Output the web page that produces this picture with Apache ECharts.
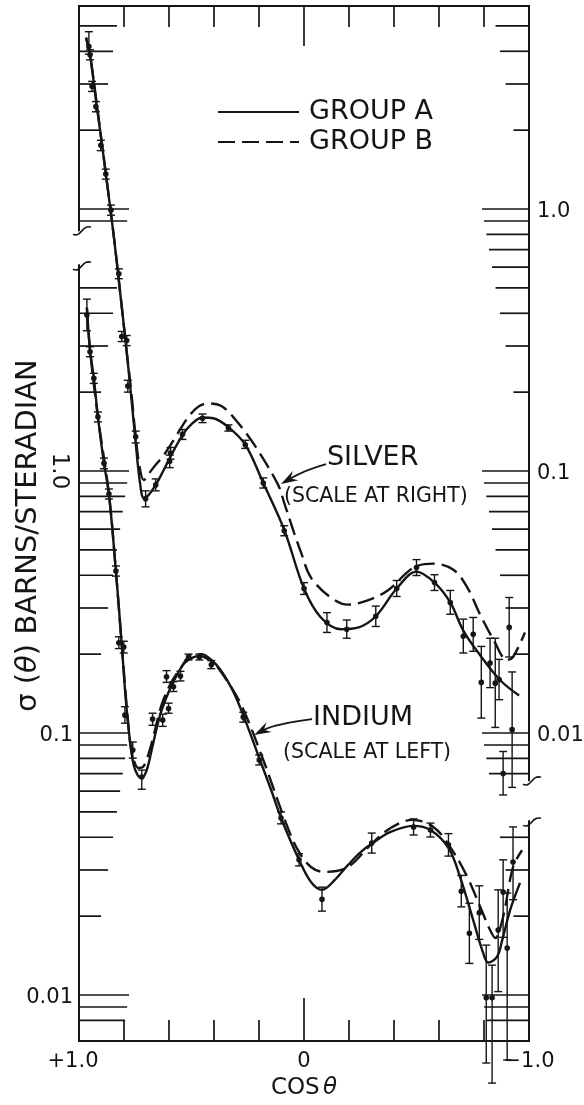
<!DOCTYPE html>
<html><head><meta charset="utf-8">
<script src="https://cdn.jsdelivr.net/npm/echarts@6/dist/echarts.min.js"></script>
<style>html,body{margin:0;padding:0;background:#fff}#c{width:584px;height:1105px}</style>
</head><body><div id="c"></div>
<script>
// ---------------- data ----------------
const xTickValues = [0.8, 0.6, 0.4, 0.2, 0, -0.2, -0.4, -0.6, -0.8];
const xLabelValues = [1, 0, -1];
const xLabelTexts = ['+1.0', '0', '\u22121.0'];

const leftTickValues = [50, 40, 30, 20, 10, 9, 5, 4, 3, 2, 1, 0.9, 0.8, 0.7, 0.6, 0.5, 0.4, 0.3, 0.2,
  0.1, 0.09, 0.08, 0.07, 0.06, 0.05, 0.04, 0.03, 0.02, 0.01, 0.009, 0.008];
const rightTickValues = [5, 4, 3, 2, 1, 0.9, 0.8, 0.7, 0.6, 0.5, 0.4, 0.3, 0.2,
  0.1, 0.09, 0.08, 0.07, 0.06, 0.05, 0.04, 0.03, 0.02, 0.01, 0.009, 0.008, 0.007,
  0.004, 0.003, 0.002, 0.001, 0.0009, 0.0008];
const leftLabelValues = [0.01, 0.1, 1.0];
const leftLabelTexts = ['0.01', '0.1', '1.0'];
const rightLabelValues = [1.0, 0.1, 0.01];
const rightLabelTexts = ['1.0', '0.1', '0.01'];
const leftBreak = [6.1, 8.3];
const rightBreak = [0.0046, 0.0066];

// silver (scale at right): [cos, value, low, high]
const silverPoints = [
  [0.956,4.17,3.90,4.75],[0.951,3.88,3.71,4.05],[0.942,2.94,2.81,3.07],[0.925,2.46,2.35,2.57],
  [0.903,1.75,1.67,1.83],[0.881,1.36,1.30,1.42],[0.858,0.99,0.947,1.035],[0.823,0.566,0.542,0.591],
  [0.810,0.326,0.312,0.341],[0.788,0.315,0.301,0.329],[0.783,0.211,0.200,0.222],[0.748,0.135,0.128,0.142],
  [0.704,0.0783,0.0730,0.0840],[0.659,0.0885,0.0840,0.0933],[0.597,0.109,0.103,0.115],[0.593,0.117,0.111,0.123],
  [0.540,0.138,0.132,0.144],[0.451,0.159,0.153,0.165],[0.336,0.146,0.142,0.150],[0.261,0.126,0.122,0.131],
  [0.181,0.090,0.0861,0.0941],[0.088,0.0591,0.0566,0.0618],[0.000,0.0356,0.0338,0.0375],[-0.102,0.0264,0.0242,0.0288],
  [-0.190,0.0249,0.0230,0.0270],[-0.319,0.0279,0.0255,0.0305],[-0.412,0.0356,0.0332,0.0382],[-0.500,0.0428,0.0399,0.0459],
  [-0.580,0.0375,0.0350,0.0402],[-0.650,0.0315,0.0284,0.0350],[-0.708,0.0234,0.0202,0.0272],[-0.752,0.0238,0.0205,0.0276],
  [-0.788,0.0156,0.0114,0.0214],[-0.827,0.0185,0.0149,0.0230],[-0.850,0.0155,0.0105,0.0230],[-0.867,0.0160,0.0134,0.0191],
  [-0.912,0.0253,0.0195,0.0329],[-0.925,0.0103,0.0062,0.0171],[-0.885,0.0070,0.0058,0.0085]
];
const silverGroupA = [
  [0.969,4.51],[0.951,3.88],[0.925,2.62],[0.898,1.77],[0.872,1.19],[0.845,0.783],[0.819,0.496],[0.792,0.307],
  [0.765,0.181],[0.748,0.128],[0.730,0.0916],[0.712,0.0789],[0.690,0.0811],[0.659,0.0885],[0.628,0.0991],
  [0.597,0.112],[0.540,0.137],[0.500,0.151],[0.451,0.160],[0.403,0.159],[0.336,0.147],[0.261,0.126],
  [0.181,0.0900],[0.088,0.0597],[0.0,0.0356],[-0.075,0.0276],[-0.164,0.0249],[-0.243,0.0253],[-0.319,0.0279],
  [-0.412,0.0356],[-0.500,0.0413],[-0.580,0.0375],[-0.650,0.0315],[-0.708,0.0246],[-0.783,0.0198],
  [-0.872,0.0159],[-0.956,0.0139]
];
const silverGroupB = [
  [0.969,4.51],[0.951,3.88],[0.898,1.77],[0.845,0.783],[0.792,0.307],[0.765,0.190],[0.748,0.134],[0.730,0.103],
  [0.712,0.0924],[0.677,0.101],[0.611,0.119],[0.566,0.137],[0.509,0.163],[0.465,0.177],[0.420,0.181],
  [0.367,0.177],[0.310,0.159],[0.221,0.126],[0.115,0.0885],[0.088,0.0756],[0.044,0.0581],[0.013,0.0488],
  [-0.031,0.0392],[-0.119,0.0329],[-0.195,0.0309],[-0.283,0.0321],[-0.372,0.0350],[-0.487,0.0428],
  [-0.575,0.0443],[-0.664,0.0420],[-0.726,0.0359],[-0.783,0.0283],[-0.841,0.0228],[-0.903,0.0190],
  [-0.929,0.0195],[-0.982,0.0242]
];

// indium (scale at left): [cos, value, low, high]
const indiumPoints = [
  [0.965,3.94,3.43,4.53],[0.951,2.85,2.73,2.98],[0.934,2.26,2.16,2.36],[0.916,1.61,1.54,1.68],
  [0.889,1.07,1.02,1.12],[0.867,0.817,0.782,0.854],[0.836,0.415,0.397,0.434],[0.823,0.221,0.210,0.233],
  [0.801,0.213,0.202,0.224],[0.796,0.117,0.109,0.126],[0.761,0.0861,0.0802,0.0924],[0.721,0.0679,0.0610,0.0722],
  [0.673,0.113,0.107,0.119],[0.628,0.112,0.106,0.118],[0.602,0.124,0.119,0.130],[0.611,0.164,0.156,0.173],
  [0.580,0.150,0.144,0.157],[0.549,0.165,0.158,0.172],[0.513,0.195,0.190,0.200],[0.465,0.195,0.190,0.200],
  [0.412,0.182,0.176,0.189],[0.270,0.115,0.110,0.120],[0.199,0.0789,0.0755,0.0825],[0.102,0.0474,0.0450,0.0500],
  [0.022,0.0328,0.0311,0.0346],[-0.080,0.0232,0.0209,0.0258],[-0.301,0.0380,0.0348,0.0415],[-0.487,0.0438,0.0408,0.0470],
  [-0.562,0.0426,0.0401,0.0453],[-0.642,0.0374,0.0339,0.0413],[-0.699,0.0249,0.0217,0.0286],[-0.735,0.0172,0.0132,0.0224],
  [-0.779,0.0206,0.0163,0.0261],[-0.810,0.00975,0.0055,0.0155],[-0.836,0.00975,0.00461,0.0130],[-0.863,0.0177,0.0103,0.0252],
  [-0.885,0.0247,0.0166,0.0328],[-0.903,0.0151,0.00565,0.0245],[-0.929,0.0322,0.0231,0.0438]
];
const indiumGroupA = [
  [0.965,4.2],[0.951,2.90],[0.934,2.26],[0.916,1.61],[0.889,1.07],[0.867,0.817],[0.836,0.415],[0.810,0.217],
  [0.792,0.134],[0.774,0.0940],[0.757,0.0755],[0.739,0.0691],[0.721,0.0673],[0.699,0.0722],[0.677,0.0861],
  [0.655,0.104],[0.633,0.122],[0.602,0.143],[0.566,0.166],[0.531,0.185],[0.500,0.193],[0.465,0.197],
  [0.434,0.193],[0.389,0.182],[0.323,0.149],[0.270,0.117],[0.199,0.0803],[0.146,0.0606],[0.102,0.0474],
  [0.022,0.0328],[-0.031,0.0270],[-0.080,0.0252],[-0.137,0.0275],[-0.195,0.0313],[-0.252,0.0351],
  [-0.305,0.0380],[-0.385,0.0419],[-0.487,0.0442],[-0.562,0.0426],[-0.642,0.0364],[-0.695,0.0280],[-0.752,0.0193],
  [-0.796,0.0145],[-0.819,0.0133],[-0.858,0.0140],[-0.881,0.0162],[-0.916,0.0211],[-0.960,0.0268]
];
const indiumGroupB = [
  [0.965,4.2],[0.951,2.90],[0.916,1.61],[0.867,0.817],[0.836,0.415],[0.810,0.217],[0.774,0.0940],[0.757,0.0789],
  [0.735,0.0735],[0.712,0.0748],[0.677,0.0916],[0.633,0.128],[0.588,0.157],[0.544,0.179],[0.500,0.199],
  [0.456,0.200],[0.412,0.190],[0.358,0.166],[0.279,0.128],[0.181,0.0789],[0.080,0.0453],[0.027,0.0357],
  [-0.031,0.0308],[-0.088,0.0295],[-0.195,0.0308],[-0.296,0.0374],[-0.385,0.0434],[-0.482,0.0466],
  [-0.575,0.0438],[-0.650,0.0367],[-0.726,0.0282],[-0.783,0.0217],[-0.827,0.0177],[-0.850,0.0165],
  [-0.885,0.0199],[-0.929,0.0308],[-0.969,0.0357]
];

// annotations (cos, left-scale value)
const annotationTexts = ['SILVER', '(SCALE AT RIGHT)', 'INDIUM', '(SCALE AT LEFT)'];
const annotationAnchors = [[-0.102, 1.12], [0.089, 0.796], [-0.040, 0.114], [0.093, 0.0839]];
const annotationArrows = [
  [[-0.098, 1.063], [-0.004, 1.009], [0.102, 0.892]],
  [[-0.036, 0.113], [0.129, 0.1082], [0.222, 0.0983]]
];

// ---------------- chart ----------------
const INK = '#151515';
const FONT = 'DejaVu Sans';
const LEFT_MIN = 0.006674, LEFT_MAX = 59.55;
const RIGHT_MIN = LEFT_MIN / 10, RIGHT_MAX = LEFT_MAX / 10;

function tickLen(v, base, slope) {
  const l = Math.log10(v);
  const f = l - Math.ceil(l - 1e-9);
  return base + slope * f;
}
function seg(x1, y1, x2, y2, w) {
  return { type: 'line', shape: { x1, y1, x2, y2 }, style: { stroke: INK, lineWidth: w || 1.6 } };
}
function errorBarItem(params, api) {
  const x = api.value(0);
  const pv = api.coord([x, api.value(1)]);
  const pl = api.coord([x, api.value(2)]);
  const ph = api.coord([x, api.value(3)]);
  const cw = 4;
  return { type: 'group', children: [
    seg(pl[0], pl[1], ph[0], ph[1], 1.4),
    seg(pl[0] - cw, pl[1], pl[0] + cw, pl[1], 1.4),
    seg(ph[0] - cw, ph[1], ph[0] + cw, ph[1], 1.4),
    { type: 'circle', shape: { cx: pv[0], cy: pv[1], r: 2.8 }, style: { fill: INK } }
  ] };
}
function squiggle(p, dir) {
  return { type: 'bezierCurve', shape: {
    x1: p[0] - 6 * dir, y1: p[1] + 4, cpx1: p[0] + 2 * dir, cpy1: p[1] + 8,
    cpx2: p[0] + 3 * dir, cpy2: p[1] - 6, x2: p[0] + 12 * dir, y2: p[1] - 3 },
    style: { stroke: INK, lineWidth: 1.6, fill: null } };
}

const chart = echarts.init(document.getElementById('c'), null, { renderer: 'canvas' });

const lineBase = { type: 'line', showSymbol: false, symbol: 'none', smooth: 0.35, silent: true, z: 3 };
const solidStyle = { color: INK, width: 2.4, type: 'solid' };
const dashStyle = { color: INK, width: 2.4, type: [17, 7] };

chart.setOption({
  animation: false,
  backgroundColor: '#ffffff',
  grid: { left: 79, right: 55, top: 6, bottom: 64, containLabel: false },
  legend: {
    data: ['GROUP A', 'GROUP B'], orient: 'vertical', left: 217, top: 97, padding: 0,
    itemWidth: 81, itemHeight: 14, itemGap: 0, selectedMode: false,
    itemStyle: { color: 'rgba(0,0,0,0)', borderWidth: 0, opacity: 0 },
    textStyle: { fontFamily: FONT, fontSize: 27, color: INK, lineHeight: 30, padding: [0, 0, 0, 5] }
  },
  xAxis: [
    { type: 'value', min: -1, max: 1, inverse: true, position: 'bottom',
      axisLine: { show: true, lineStyle: { color: INK, width: 2 } },
      axisTick: { show: false }, axisLabel: { show: false }, splitLine: { show: false },
      name: '{a|COS} {b|θ}', nameLocation: 'middle', nameGap: 36,
      nameTextStyle: { rich: {
        a: { fontFamily: FONT, fontSize: 23, color: INK },
        b: { fontFamily: FONT, fontSize: 23, color: INK, fontStyle: 'italic' } } } },
    { type: 'value', min: -1, max: 1, inverse: true, position: 'top',
      axisLine: { show: true, lineStyle: { color: INK, width: 2 } },
      axisTick: { show: false }, axisLabel: { show: false }, splitLine: { show: false } }
  ],
  yAxis: [
    { type: 'log', min: LEFT_MIN, max: LEFT_MAX, position: 'left',
      axisLine: { show: false }, axisTick: { show: false }, axisLabel: { show: false }, splitLine: { show: false },
      name: '{a|σ (}{b|θ}{a|) BARNS/STERADIAN}', nameLocation: 'middle', nameRotate: 90, nameGap: 36,
      nameTextStyle: { padding: [0, 24, 0, 0], rich: {
        a: { fontFamily: FONT, fontSize: 29, color: INK },
        b: { fontFamily: FONT, fontSize: 29, color: INK, fontStyle: 'italic' } } } },
    { type: 'log', min: RIGHT_MIN, max: RIGHT_MAX, position: 'right',
      axisLine: { show: false }, axisTick: { show: false }, axisLabel: { show: false }, splitLine: { show: false } }
  ],
  series: [
    // left axis line with break
    { type: 'custom', yAxisIndex: 0, silent: true, clip: false, z: 2,
      data: [[1, LEFT_MAX, leftBreak[1]], [1, leftBreak[0], LEFT_MIN]],
      encode: { x: 0, y: [1, 2] },
      renderItem: (params, api) => {
        const a = api.coord([api.value(0), api.value(1)]);
        const b = api.coord([api.value(0), api.value(2)]);
        return seg(a[0], a[1] - 1, b[0], b[1] + 1, 2);
      } },
    { type: 'custom', yAxisIndex: 0, silent: true, clip: false, z: 2,
      data: leftBreak.map(v => [1, v]), encode: { x: 0, y: 1 },
      renderItem: (params, api) => squiggle(api.coord([api.value(0), api.value(1)]), 1) },
    // right axis line with break
    { type: 'custom', yAxisIndex: 1, silent: true, clip: false, z: 2,
      data: [[-1, RIGHT_MAX, rightBreak[1]], [-1, rightBreak[0], RIGHT_MIN]],
      encode: { x: 0, y: [1, 2] },
      renderItem: (params, api) => {
        const a = api.coord([api.value(0), api.value(1)]);
        const b = api.coord([api.value(0), api.value(2)]);
        return seg(a[0], a[1] - 1, b[0], b[1] + 1, 2);
      } },
    { type: 'custom', yAxisIndex: 1, silent: true, clip: false, z: 2,
      data: rightBreak.map(v => [-1, v]), encode: { x: 0, y: 1 },
      renderItem: (params, api) => squiggle(api.coord([api.value(0), api.value(1)]), 1) },
    // left ticks
    { type: 'custom', yAxisIndex: 0, silent: true, clip: false, z: 2,
      data: leftTickValues.map(v => [1, v]), encode: { x: 0, y: 1 },
      renderItem: (params, api) => {
        const v = api.value(1);
        const p = api.coord([api.value(0), v]);
        return seg(p[0], p[1], p[0] + tickLen(v, 50, 40), p[1], 1.7);
      } },
    // right ticks
    { type: 'custom', yAxisIndex: 1, silent: true, clip: false, z: 2,
      data: rightTickValues.map(v => [-1, v]), encode: { x: 0, y: 1 },
      renderItem: (params, api) => {
        const v = api.value(1);
        const p = api.coord([api.value(0), v]);
        return seg(p[0], p[1], p[0] - tickLen(v, 47, 45), p[1], 1.7);
      } },
    // x ticks (top and bottom)
    { type: 'custom', yAxisIndex: 0, silent: true, clip: false, z: 2,
      data: xTickValues.map(v => [v, LEFT_MIN, LEFT_MAX]), encode: { x: 0, y: [1, 2] },
      renderItem: (params, api) => {
        const x = api.value(0);
        const b = api.coord([x, api.value(1)]);
        const t = api.coord([x, api.value(2)]);
        const long = Math.abs(x) < 1e-9;
        return { type: 'group', children: [
          seg(b[0], b[1], b[0], b[1] - (long ? 43 : 21), 1.7),
          seg(t[0], t[1], t[0], t[1] + (long ? 40 : 21), 1.7)
        ] };
      } },
    // left labels
    { type: 'custom', yAxisIndex: 0, silent: true, clip: false, z: 2,
      data: leftLabelValues.map(v => [1, v]), encode: { x: 0, y: 1 },
      renderItem: (params, api) => {
        const v = api.value(1);
        const p = api.coord([api.value(0), v]);
        const txt = leftLabelTexts[params.dataIndex];
        if (v >= 1) {
          return { type: 'text', x: p[0] - 20, y: p[1], rotation: -Math.PI / 2,
            style: { text: txt, fontFamily: FONT, fontSize: 23, fill: INK, align: 'center', verticalAlign: 'middle' } };
        }
        return { type: 'text', x: p[0] - 6, y: p[1] + 3,
          style: { text: txt, fontFamily: FONT, fontSize: 21, fill: INK, align: 'right', verticalAlign: 'middle' } };
      } },
    // right labels
    { type: 'custom', yAxisIndex: 1, silent: true, clip: false, z: 2,
      data: rightLabelValues.map(v => [-1, v]), encode: { x: 0, y: 1 },
      renderItem: (params, api) => {
        const p = api.coord([api.value(0), api.value(1)]);
        return { type: 'text', x: p[0] + 8, y: p[1] + 3,
          style: { text: rightLabelTexts[params.dataIndex], fontFamily: FONT, fontSize: 21, fill: INK,
            align: 'left', verticalAlign: 'middle' } };
      } },
    // x labels
    { type: 'custom', yAxisIndex: 0, silent: true, clip: false, z: 2,
      data: xLabelValues.map(v => [v, LEFT_MIN]), encode: { x: 0, y: 1 },
      renderItem: (params, api) => {
        const p = api.coord([api.value(0), api.value(1)]);
        const i = params.dataIndex;
        const dx = i === 0 ? -6 : 0;
        return { type: 'text', x: p[0] + dx, y: p[1] + 21,
          style: { text: xLabelTexts[i], fontFamily: FONT, fontSize: 21, fill: INK,
            align: 'center', verticalAlign: 'middle' } };
      } },
    // annotations text
    { type: 'custom', yAxisIndex: 0, silent: true, clip: false, z: 4,
      data: annotationAnchors, encode: { x: 0, y: 1 },
      renderItem: (params, api) => {
        const p = api.coord([api.value(0), api.value(1)]);
        const txt = annotationTexts[params.dataIndex];
        const small = txt.charAt(0) === '(';
        return { type: 'text', x: p[0], y: p[1],
          style: { text: txt, fontFamily: FONT, fontSize: small ? 20.5 : 27, fill: INK,
            align: 'left', verticalAlign: 'middle' } };
      } },
    // annotation arrows
    { type: 'custom', yAxisIndex: 0, silent: true, clip: false, z: 4,
      data: annotationArrows.map(a => [a[0][0], a[0][1], a[1][0], a[1][1], a[2][0], a[2][1]]),
      encode: { x: [0, 2, 4], y: [1, 3, 5] },
      renderItem: (params, api) => {
        const p0 = api.coord([api.value(0), api.value(1)]);
        const p1 = api.coord([api.value(2), api.value(3)]);
        const p2 = api.coord([api.value(4), api.value(5)]);
        let dx = p2[0] - p1[0], dy = p2[1] - p1[1];
        const n = Math.hypot(dx, dy); dx /= n; dy /= n;
        const nx = -dy, ny = dx;
        const L = 17, W = 5.5, N = 11;
        const back = [p2[0] - dx * L, p2[1] - dy * L];
        const notch = [p2[0] - dx * N, p2[1] - dy * N];
        return { type: 'group', children: [
          { type: 'bezierCurve', shape: { x1: p0[0], y1: p0[1], cpx1: p1[0], cpy1: p1[1], x2: notch[0], y2: notch[1] },
            style: { stroke: INK, lineWidth: 1.8, fill: null } },
          { type: 'polygon', shape: { points: [p2, [back[0] + nx * W, back[1] + ny * W], notch,
            [back[0] - nx * W, back[1] - ny * W]] }, style: { fill: INK } }
        ] };
      } },
    // curves
    Object.assign({}, lineBase, { name: 'GROUP A', yAxisIndex: 1, data: silverGroupA, lineStyle: solidStyle, itemStyle: { color: INK } }),
    Object.assign({}, lineBase, { name: 'GROUP B', yAxisIndex: 1, data: silverGroupB, lineStyle: dashStyle, itemStyle: { color: INK } }),
    Object.assign({}, lineBase, { name: 'GROUP A', yAxisIndex: 0, data: indiumGroupA, lineStyle: solidStyle, itemStyle: { color: INK } }),
    Object.assign({}, lineBase, { name: 'GROUP B', yAxisIndex: 0, data: indiumGroupB, lineStyle: dashStyle, itemStyle: { color: INK } }),
    // data points with error bars
    { type: 'custom', name: 'silver data', yAxisIndex: 1, silent: true, clip: false, z: 5,
      data: silverPoints, encode: { x: 0, y: [1, 2, 3] }, renderItem: errorBarItem },
    { type: 'custom', name: 'indium data', yAxisIndex: 0, silent: true, clip: false, z: 5,
      data: indiumPoints, encode: { x: 0, y: [1, 2, 3] }, renderItem: errorBarItem }
  ]
});
</script>
</body></html>
